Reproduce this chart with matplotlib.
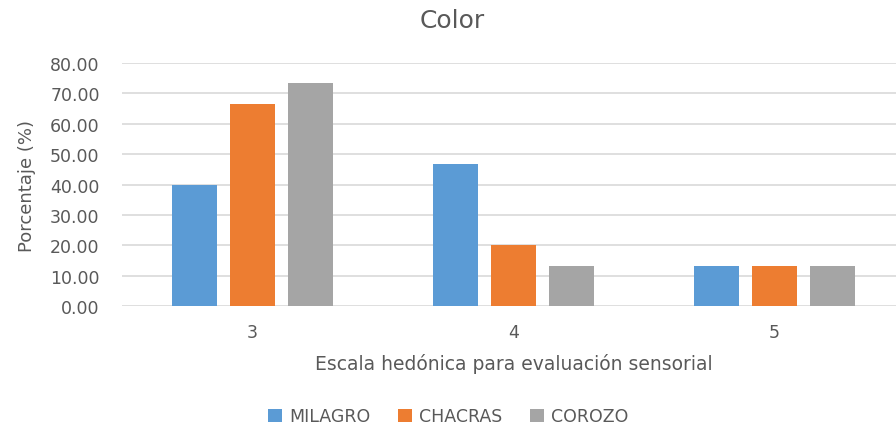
import matplotlib.pyplot as plt
import numpy as np

categories = ["3", "4", "5"]
milagro = [40.00, 46.67, 13.33]
chacras = [66.67, 20.00, 13.33]
corozo = [73.33, 13.33, 13.33]
series = ["MILAGRO", "CHACRAS", "COROZO"]
colors = ["#5B9BD5", "#ED7D31", "#A5A5A5"]

plt.rcParams['font.family'] = ['DejaVu Sans']
txt = '#595959'

fig = plt.figure(figsize=(8.96, 4.27), dpi=100)
ax = fig.add_axes([0.136, 0.281, 0.874, 0.569])

x = np.arange(len(categories))
w = 0.174
step = 0.222
for i, (vals, name) in enumerate(zip([milagro, chacras, corozo], series)):
    ax.bar(x + (i - 1) * step, vals, w, color=colors[i], label=name, zorder=3)

ax.set_xlim(-0.5, 2.5)
ax.set_ylim(0, 80)
ax.set_yticks(range(0, 81, 10))
ax.set_yticklabels(["%.2f" % v for v in range(0, 81, 10)])
ax.set_xticks(x)
ax.set_xticklabels(categories)
ax.tick_params(length=0, colors=txt, labelsize=12.5)
ax.tick_params(axis='x', pad=12)
ax.tick_params(axis='y', pad=16)
ax.grid(axis='y', color='#D9D9D9', linewidth=1.2, zorder=0)
for s in ax.spines.values():
    s.set_visible(False)

ax.set_ylabel("Porcentaje (%)", color=txt, fontsize=13, labelpad=10)
ax.set_xlabel("Escala hedónica para evaluación sensorial", color=txt, fontsize=13.5, labelpad=9)
fig.text(0.505, 0.95, "Color", ha='center', va='center', color=txt, fontsize=18)

fig.legend(loc='center', bbox_to_anchor=(0.5, 0.023), ncol=3, frameon=False,
           fontsize=12.5, labelcolor=txt, handlelength=0.8, handleheight=0.8,
           handletextpad=0.4, columnspacing=1.6)

fig.savefig('out.png', dpi=100)
